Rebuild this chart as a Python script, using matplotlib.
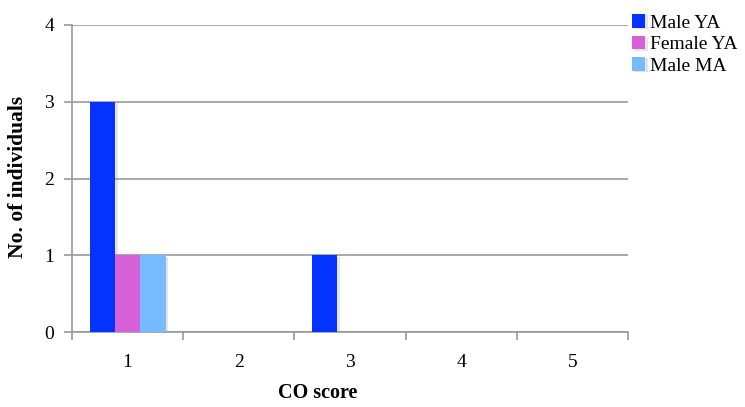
import matplotlib.pyplot as plt
import matplotlib.patheffects as pe
import numpy as np

scores = ['1', '2', '3', '4', '5']
male_ya = [3, 0, 1, 0, 0]
female_ya = [1, 0, 0, 0, 0]
male_ma = [1, 0, 0, 0, 0]

plt.rcParams['font.family'] = ['Liberation Serif', 'DejaVu Serif']

fig = plt.figure(figsize=(7.45, 4.07), dpi=100)
ax = fig.add_axes([0.0966, 0.184, 0.7464, 0.7546])

x = np.arange(len(scores))
w = 0.228
series = [(male_ya, 'Male YA', '#0433FF'),
          (female_ya, 'Female YA', '#D660D8'),
          (male_ma, 'Male MA', '#76BBFF')]
shadow = [pe.SimplePatchShadow(offset=(2, -1), shadow_rgbFace='gray', alpha=0.2), pe.Normal()]
for i, (vals, name, col) in enumerate(series):
    bars = ax.bar(x + (i - 1) * w, vals, w, color=col, label=name, zorder=3)
    for b in bars:
        if b.get_height() > 0:
            b.set_path_effects(shadow)

ax.set_xlim(-0.5, len(scores) - 0.5)
ax.set_ylim(0, 4)
ax.set_yticks(range(5))
ax.set_xticks(x)
ax.set_xticklabels(scores)
ax.set_xticks(np.arange(-0.5, len(scores)), minor=True)
ax.tick_params(axis='x', which='major', length=0, pad=16, labelsize=14)
ax.tick_params(axis='x', which='minor', length=6, color='#999999', width=1.2)
ax.tick_params(axis='y', length=6, color='#999999', width=1.2, labelsize=14, pad=7)
ax.yaxis.grid(True, color='#999999', linewidth=1.2, zorder=0)
for s in ['top', 'right']:
    ax.spines[s].set_visible(False)
for s in ['left', 'bottom']:
    ax.spines[s].set_color('#999999')
    ax.spines[s].set_linewidth(1.2)

fig.text(318 / 745, 1 - 393 / 407, 'CO score', fontweight='bold', fontsize=14.5,
         ha='center', va='center')
fig.text(18 / 745, 1 - 177 / 407, 'No. of individuals', fontweight='bold', fontsize=15.5,
         ha='center', va='center', rotation=90)

ax.legend(loc='upper left', bbox_to_anchor=(0.982, 1.08), frameon=False, fontsize=14,
          handlelength=0.7, handleheight=0.7, handletextpad=0.25, labelspacing=0.2,
          borderpad=0.2)

fig.savefig('out.png', dpi=100)
